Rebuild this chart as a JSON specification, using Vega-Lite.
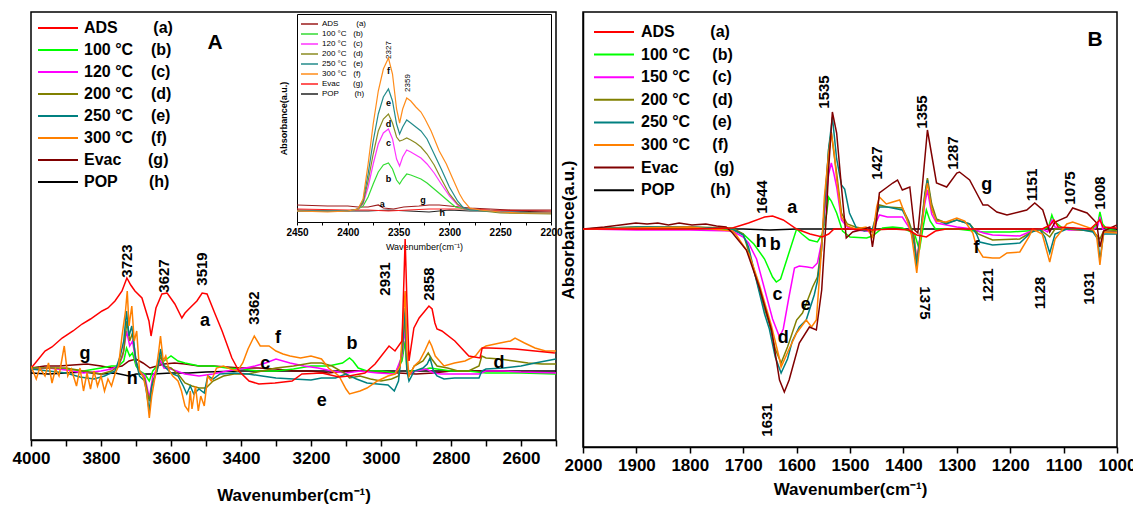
{
"$schema": "https://vega.github.io/schema/vega-lite/v6.json",
"padding": {"left": 11, "top": 11, "right": 0, "bottom": 0},
"spacing": -5,
"config": {
 "font": "Liberation Sans",
 "view": {"stroke": "black", "strokeWidth": 1.5},
 "axis": {"grid": false, "domainColor": "black", "domainWidth": 1.5, "tickColor": "black", "tickWidth": 1.5, "labelColor": "black", "titleColor": "black", "labelFont": "Liberation Sans", "titleFont": "Liberation Sans", "labelFlush": false, "labelOverlap": false, "labelBound": false},
 "legend": {"labelFont": "Liberation Sans", "labelColor": "black", "symbolType": "stroke", "padding": 0, "title": null}
},
"resolve": {"scale": {"color": "independent"}, "legend": {"color": "independent"}},
"datasets": {
"A": [
{"s":"h","w":4000,"v":-2},{"s":"h","w":3950,"v":-3},{"s":"h","w":3900,"v":-2},{"s":"h","w":3850,"v":-1},{"s":"h","w":3800,"v":-3},{"s":"h","w":3760,"v":-2},{"s":"h","w":3720,"v":-5},{"s":"h","w":3700,"v":-3},{"s":"h","w":3650,"v":-3},{"s":"h","w":3600,"v":-2},{"s":"h","w":3550,"v":-2},{"s":"h","w":3500,"v":-1},{"s":"h","w":3400,"v":0},{"s":"h","w":3300,"v":0},{"s":"h","w":3200,"v":0},{"s":"h","w":3100,"v":0},{"s":"h","w":3000,"v":0},{"s":"h","w":2900,"v":0},{"s":"h","w":2800,"v":0},{"s":"h","w":2700,"v":0},{"s":"h","w":2600,"v":0},{"s":"h","w":2500,"v":0},
{"s":"g","w":4000,"v":3},{"s":"g","w":3960,"v":5},{"s":"g","w":3920,"v":5},{"s":"g","w":3880,"v":6},{"s":"g","w":3840,"v":7},{"s":"g","w":3800,"v":5},{"s":"g","w":3770,"v":3},{"s":"g","w":3740,"v":5},{"s":"g","w":3720,"v":10},{"s":"g","w":3700,"v":12},{"s":"g","w":3680,"v":8},{"s":"g","w":3660,"v":3},{"s":"g","w":3640,"v":5},{"s":"g","w":3620,"v":7},{"s":"g","w":3590,"v":8},{"s":"g","w":3560,"v":7},{"s":"g","w":3520,"v":5},{"s":"g","w":3480,"v":5},{"s":"g","w":3440,"v":4},{"s":"g","w":3400,"v":3},{"s":"g","w":3350,"v":3},{"s":"g","w":3300,"v":2},{"s":"g","w":3250,"v":0},{"s":"g","w":3200,"v":0},{"s":"g","w":3150,"v":-2},{"s":"g","w":3100,"v":0},{"s":"g","w":3050,"v":0},{"s":"g","w":3000,"v":-1},{"s":"g","w":2950,"v":-2},{"s":"g","w":2900,"v":-3},{"s":"g","w":2850,"v":-2},{"s":"g","w":2800,"v":0},{"s":"g","w":2750,"v":0},{"s":"g","w":2700,"v":0},{"s":"g","w":2650,"v":0},{"s":"g","w":2600,"v":-1},{"s":"g","w":2500,"v":-2},
{"s":"b","w":4000,"v":3},{"s":"b","w":3950,"v":3},{"s":"b","w":3900,"v":2},{"s":"b","w":3850,"v":0},{"s":"b","w":3800,"v":3},{"s":"b","w":3770,"v":5},{"s":"b","w":3750,"v":5},{"s":"b","w":3735,"v":10},{"s":"b","w":3727,"v":23},{"s":"b","w":3718,"v":15},{"s":"b","w":3710,"v":18},{"s":"b","w":3700,"v":5},{"s":"b","w":3690,"v":0},{"s":"b","w":3675,"v":-3},{"s":"b","w":3662,"v":-10},{"s":"b","w":3652,"v":0},{"s":"b","w":3640,"v":5},{"s":"b","w":3620,"v":10},{"s":"b","w":3600,"v":15},{"s":"b","w":3580,"v":10},{"s":"b","w":3560,"v":8},{"s":"b","w":3520,"v":5},{"s":"b","w":3480,"v":5},{"s":"b","w":3440,"v":3},{"s":"b","w":3400,"v":2},{"s":"b","w":3350,"v":0},{"s":"b","w":3300,"v":0},{"s":"b","w":3250,"v":2},{"s":"b","w":3200,"v":5},{"s":"b","w":3150,"v":5},{"s":"b","w":3110,"v":8},{"s":"b","w":3090,"v":13},{"s":"b","w":3080,"v":10},{"s":"b","w":3065,"v":3},{"s":"b","w":3040,"v":0},{"s":"b","w":3000,"v":0},{"s":"b","w":2960,"v":-2},{"s":"b","w":2940,"v":10},{"s":"b","w":2931,"v":30},{"s":"b","w":2926,"v":0},{"s":"b","w":2900,"v":0},{"s":"b","w":2860,"v":3},{"s":"b","w":2800,"v":0},{"s":"b","w":2750,"v":0},{"s":"b","w":2700,"v":-2},{"s":"b","w":2600,"v":-2},{"s":"b","w":2500,"v":-3},
{"s":"c","w":4000,"v":2},{"s":"c","w":3950,"v":3},{"s":"c","w":3900,"v":1},{"s":"c","w":3850,"v":-2},{"s":"c","w":3800,"v":0},{"s":"c","w":3770,"v":2},{"s":"c","w":3750,"v":5},{"s":"c","w":3738,"v":15},{"s":"c","w":3727,"v":40},{"s":"c","w":3718,"v":25},{"s":"c","w":3710,"v":30},{"s":"c","w":3700,"v":8},{"s":"c","w":3690,"v":0},{"s":"c","w":3675,"v":-5},{"s":"c","w":3662,"v":-27},{"s":"c","w":3652,"v":-5},{"s":"c","w":3640,"v":2},{"s":"c","w":3630,"v":10},{"s":"c","w":3620,"v":3},{"s":"c","w":3600,"v":2},{"s":"c","w":3560,"v":-3},{"s":"c","w":3520,"v":-5},{"s":"c","w":3480,"v":-3},{"s":"c","w":3440,"v":0},{"s":"c","w":3400,"v":2},{"s":"c","w":3360,"v":5},{"s":"c","w":3330,"v":8},{"s":"c","w":3300,"v":12},{"s":"c","w":3260,"v":8},{"s":"c","w":3220,"v":5},{"s":"c","w":3180,"v":3},{"s":"c","w":3140,"v":0},{"s":"c","w":3100,"v":-2},{"s":"c","w":3060,"v":0},{"s":"c","w":3010,"v":-2},{"s":"c","w":2960,"v":-3},{"s":"c","w":2940,"v":15},{"s":"c","w":2931,"v":43},{"s":"c","w":2926,"v":5},{"s":"c","w":2920,"v":-3},{"s":"c","w":2900,"v":0},{"s":"c","w":2870,"v":2},{"s":"c","w":2850,"v":-2},{"s":"c","w":2830,"v":-3},{"s":"c","w":2790,"v":-3},{"s":"c","w":2750,"v":-3},{"s":"c","w":2720,"v":-3},{"s":"c","w":2700,"v":0},{"s":"c","w":2650,"v":0},{"s":"c","w":2600,"v":-1},{"s":"c","w":2500,"v":-2},
{"s":"d","w":4000,"v":3},{"s":"d","w":3900,"v":3},{"s":"d","w":3850,"v":0},{"s":"d","w":3800,"v":-3},{"s":"d","w":3770,"v":0},{"s":"d","w":3750,"v":5},{"s":"d","w":3735,"v":20},{"s":"d","w":3726,"v":50},{"s":"d","w":3718,"v":30},{"s":"d","w":3710,"v":38},{"s":"d","w":3700,"v":10},{"s":"d","w":3690,"v":0},{"s":"d","w":3675,"v":-8},{"s":"d","w":3662,"v":-30},{"s":"d","w":3652,"v":-10},{"s":"d","w":3640,"v":0},{"s":"d","w":3630,"v":15},{"s":"d","w":3620,"v":5},{"s":"d","w":3600,"v":3},{"s":"d","w":3580,"v":-3},{"s":"d","w":3560,"v":-12},{"s":"d","w":3540,"v":-15},{"s":"d","w":3520,"v":-17},{"s":"d","w":3500,"v":-17},{"s":"d","w":3480,"v":-10},{"s":"d","w":3450,"v":-5},{"s":"d","w":3420,"v":-3},{"s":"d","w":3380,"v":-3},{"s":"d","w":3340,"v":0},{"s":"d","w":3300,"v":3},{"s":"d","w":3250,"v":5},{"s":"d","w":3200,"v":8},{"s":"d","w":3170,"v":8},{"s":"d","w":3140,"v":5},{"s":"d","w":3100,"v":-3},{"s":"d","w":3090,"v":-7},{"s":"d","w":3060,"v":-5},{"s":"d","w":3030,"v":-8},{"s":"d","w":3000,"v":-10},{"s":"d","w":2970,"v":-8},{"s":"d","w":2950,"v":-5},{"s":"d","w":2938,"v":25},{"s":"d","w":2931,"v":57},{"s":"d","w":2926,"v":0},{"s":"d","w":2920,"v":-5},{"s":"d","w":2905,"v":5},{"s":"d","w":2880,"v":10},{"s":"d","w":2865,"v":18},{"s":"d","w":2855,"v":12},{"s":"d","w":2840,"v":5},{"s":"d","w":2810,"v":3},{"s":"d","w":2780,"v":0},{"s":"d","w":2750,"v":0},{"s":"d","w":2720,"v":5},{"s":"d","w":2712,"v":15},{"s":"d","w":2700,"v":13},{"s":"d","w":2660,"v":12},{"s":"d","w":2620,"v":10},{"s":"d","w":2580,"v":8},{"s":"d","w":2540,"v":7},{"s":"d","w":2500,"v":7},
{"s":"e","w":4000,"v":2},{"s":"e","w":3950,"v":0},{"s":"e","w":3900,"v":-2},{"s":"e","w":3860,"v":-6},{"s":"e","w":3820,"v":-8},{"s":"e","w":3790,"v":-5},{"s":"e","w":3760,"v":0},{"s":"e","w":3745,"v":15},{"s":"e","w":3735,"v":30},{"s":"e","w":3727,"v":60},{"s":"e","w":3720,"v":35},{"s":"e","w":3712,"v":45},{"s":"e","w":3700,"v":10},{"s":"e","w":3690,"v":-5},{"s":"e","w":3675,"v":-10},{"s":"e","w":3662,"v":-40},{"s":"e","w":3655,"v":-15},{"s":"e","w":3640,"v":0},{"s":"e","w":3630,"v":22},{"s":"e","w":3620,"v":5},{"s":"e","w":3600,"v":-2},{"s":"e","w":3580,"v":-5},{"s":"e","w":3565,"v":-15},{"s":"e","w":3555,"v":-23},{"s":"e","w":3545,"v":-15},{"s":"e","w":3535,"v":-23},{"s":"e","w":3520,"v":-18},{"s":"e","w":3505,"v":-22},{"s":"e","w":3495,"v":-5},{"s":"e","w":3480,"v":-8},{"s":"e","w":3460,"v":-3},{"s":"e","w":3420,"v":-2},{"s":"e","w":3380,"v":-3},{"s":"e","w":3340,"v":-5},{"s":"e","w":3300,"v":-7},{"s":"e","w":3250,"v":-8},{"s":"e","w":3200,"v":-9},{"s":"e","w":3170,"v":-7},{"s":"e","w":3130,"v":-7},{"s":"e","w":3100,"v":-3},{"s":"e","w":3070,"v":-8},{"s":"e","w":3040,"v":-12},{"s":"e","w":3010,"v":-13},{"s":"e","w":2980,"v":-14},{"s":"e","w":2962,"v":-20},{"s":"e","w":2950,"v":-10},{"s":"e","w":2938,"v":30},{"s":"e","w":2931,"v":63},{"s":"e","w":2926,"v":0},{"s":"e","w":2920,"v":-10},{"s":"e","w":2905,"v":0},{"s":"e","w":2880,"v":3},{"s":"e","w":2868,"v":7},{"s":"e","w":2860,"v":13},{"s":"e","w":2850,"v":0},{"s":"e","w":2840,"v":-5},{"s":"e","w":2820,"v":-8},{"s":"e","w":2790,"v":-7},{"s":"e","w":2760,"v":-7},{"s":"e","w":2720,"v":-7},{"s":"e","w":2712,"v":0},{"s":"e","w":2700,"v":2},{"s":"e","w":2650,"v":3},{"s":"e","w":2600,"v":5},{"s":"e","w":2560,"v":8},{"s":"e","w":2500,"v":12},
{"s":"f","w":4000,"v":5},{"s":"f","w":3985,"v":-8},{"s":"f","w":3975,"v":3},{"s":"f","w":3960,"v":-5},{"s":"f","w":3950,"v":8},{"s":"f","w":3940,"v":-12},{"s":"f","w":3930,"v":2},{"s":"f","w":3920,"v":-5},{"s":"f","w":3905,"v":25},{"s":"f","w":3895,"v":-5},{"s":"f","w":3885,"v":2},{"s":"f","w":3870,"v":-15},{"s":"f","w":3860,"v":3},{"s":"f","w":3850,"v":-20},{"s":"f","w":3840,"v":-2},{"s":"f","w":3830,"v":-18},{"s":"f","w":3820,"v":0},{"s":"f","w":3810,"v":-15},{"s":"f","w":3800,"v":-5},{"s":"f","w":3790,"v":-20},{"s":"f","w":3780,"v":-8},{"s":"f","w":3770,"v":-15},{"s":"f","w":3760,"v":-3},{"s":"f","w":3750,"v":5},{"s":"f","w":3740,"v":35},{"s":"f","w":3730,"v":60},{"s":"f","w":3725,"v":80},{"s":"f","w":3720,"v":45},{"s":"f","w":3712,"v":65},{"s":"f","w":3705,"v":30},{"s":"f","w":3698,"v":40},{"s":"f","w":3690,"v":0},{"s":"f","w":3680,"v":-5},{"s":"f","w":3670,"v":-20},{"s":"f","w":3662,"v":-47},{"s":"f","w":3655,"v":-25},{"s":"f","w":3645,"v":-5},{"s":"f","w":3635,"v":20},{"s":"f","w":3630,"v":35},{"s":"f","w":3622,"v":10},{"s":"f","w":3615,"v":15},{"s":"f","w":3605,"v":0},{"s":"f","w":3595,"v":-5},{"s":"f","w":3580,"v":-10},{"s":"f","w":3570,"v":-20},{"s":"f","w":3560,"v":-35},{"s":"f","w":3550,"v":-40},{"s":"f","w":3545,"v":-20},{"s":"f","w":3540,"v":-38},{"s":"f","w":3530,"v":-15},{"s":"f","w":3522,"v":-40},{"s":"f","w":3515,"v":-25},{"s":"f","w":3505,"v":-35},{"s":"f","w":3495,"v":-5},{"s":"f","w":3485,"v":-10},{"s":"f","w":3470,"v":3},{"s":"f","w":3450,"v":5},{"s":"f","w":3430,"v":2},{"s":"f","w":3410,"v":0},{"s":"f","w":3395,"v":8},{"s":"f","w":3380,"v":22},{"s":"f","w":3362,"v":35},{"s":"f","w":3345,"v":25},{"s":"f","w":3320,"v":25},{"s":"f","w":3300,"v":20},{"s":"f","w":3280,"v":17},{"s":"f","w":3260,"v":15},{"s":"f","w":3230,"v":13},{"s":"f","w":3200,"v":15},{"s":"f","w":3170,"v":12},{"s":"f","w":3150,"v":3},{"s":"f","w":3120,"v":-5},{"s":"f","w":3100,"v":-18},{"s":"f","w":3090,"v":-23},{"s":"f","w":3060,"v":-20},{"s":"f","w":3040,"v":-17},{"s":"f","w":3010,"v":-10},{"s":"f","w":2980,"v":-5},{"s":"f","w":2960,"v":-3},{"s":"f","w":2945,"v":5},{"s":"f","w":2935,"v":60},{"s":"f","w":2931,"v":80},{"s":"f","w":2926,"v":20},{"s":"f","w":2920,"v":-5},{"s":"f","w":2905,"v":5},{"s":"f","w":2890,"v":10},{"s":"f","w":2875,"v":20},{"s":"f","w":2862,"v":30},{"s":"f","w":2855,"v":25},{"s":"f","w":2845,"v":15},{"s":"f","w":2820,"v":5},{"s":"f","w":2790,"v":8},{"s":"f","w":2760,"v":10},{"s":"f","w":2730,"v":15},{"s":"f","w":2715,"v":22},{"s":"f","w":2700,"v":25},{"s":"f","w":2660,"v":28},{"s":"f","w":2630,"v":30},{"s":"f","w":2617,"v":33},{"s":"f","w":2590,"v":28},{"s":"f","w":2560,"v":23},{"s":"f","w":2530,"v":20},{"s":"f","w":2500,"v":20},
{"s":"a","w":3997,"v":4},{"s":"a","w":3960,"v":20},{"s":"a","w":3940,"v":24},{"s":"a","w":3911,"v":33},{"s":"a","w":3880,"v":40},{"s":"a","w":3854,"v":47},{"s":"a","w":3830,"v":52},{"s":"a","w":3797,"v":60},{"s":"a","w":3780,"v":63},{"s":"a","w":3760,"v":70},{"s":"a","w":3740,"v":80},{"s":"a","w":3726,"v":93},{"s":"a","w":3715,"v":86},{"s":"a","w":3703,"v":80},{"s":"a","w":3683,"v":73},{"s":"a","w":3663,"v":50},{"s":"a","w":3657,"v":35},{"s":"a","w":3643,"v":63},{"s":"a","w":3626,"v":77},{"s":"a","w":3611,"v":78},{"s":"a","w":3589,"v":67},{"s":"a","w":3569,"v":53},{"s":"a","w":3560,"v":58},{"s":"a","w":3549,"v":62},{"s":"a","w":3526,"v":70},{"s":"a","w":3511,"v":78},{"s":"a","w":3497,"v":77},{"s":"a","w":3474,"v":57},{"s":"a","w":3454,"v":40},{"s":"a","w":3426,"v":13},{"s":"a","w":3406,"v":0},{"s":"a","w":3377,"v":-10},{"s":"a","w":3349,"v":-13},{"s":"a","w":3303,"v":-12},{"s":"a","w":3254,"v":-10},{"s":"a","w":3226,"v":-3},{"s":"a","w":3169,"v":-2},{"s":"a","w":3120,"v":-6},{"s":"a","w":3091,"v":-5},{"s":"a","w":3046,"v":-2},{"s":"a","w":3017,"v":7},{"s":"a","w":2977,"v":25},{"s":"a","w":2960,"v":20},{"s":"a","w":2940,"v":30},{"s":"a","w":2934,"v":97},{"s":"a","w":2931,"v":132},{"s":"a","w":2926,"v":70},{"s":"a","w":2920,"v":10},{"s":"a","w":2906,"v":43},{"s":"a","w":2891,"v":53},{"s":"a","w":2863,"v":65},{"s":"a","w":2854,"v":62},{"s":"a","w":2846,"v":48},{"s":"a","w":2840,"v":42},{"s":"a","w":2826,"v":40},{"s":"a","w":2789,"v":30},{"s":"a","w":2749,"v":15},{"s":"a","w":2717,"v":13},{"s":"a","w":2711,"v":23},{"s":"a","w":2691,"v":23},{"s":"a","w":2617,"v":22},{"s":"a","w":2560,"v":20},{"s":"a","w":2503,"v":18}
],
"Anum": [{"w":3726,"v":110,"t":"3723"},{"w":3620,"v":95,"t":"3627"},{"w":3511,"v":102,"t":"3519"},{"w":3363,"v":63,"t":"3362"},{"w":2989,"v":92,"t":"2931"},{"w":2863,"v":87,"t":"2858"}],
"Alet": [{"w":3503,"v":50,"t":"a"},{"w":3294,"v":33,"t":"f"},{"w":3331,"v":7,"t":"c"},{"w":3846,"v":17,"t":"g"},{"w":3711,"v":-8,"t":"h"},{"w":3083,"v":27,"t":"b"},{"w":3169,"v":-30,"t":"e"},{"w":2663,"v":8,"t":"d"}],
"Apanel": [{"w":3474,"v":328,"t":"A"}],
"inset": [
{"s":"h","w":2450,"v":-1},{"s":"h","w":2400,"v":-2},{"s":"h","w":2380,"v":-2},{"s":"h","w":2360,"v":-1},{"s":"h","w":2340,"v":-2},{"s":"h","w":2320,"v":-3},{"s":"h","w":2300,"v":-1},{"s":"h","w":2280,"v":-2},{"s":"h","w":2250,"v":-2},{"s":"h","w":2200,"v":-3},
{"s":"g","w":2450,"v":0},{"s":"g","w":2400,"v":-1},{"s":"g","w":2380,"v":-1},{"s":"g","w":2360,"v":-2},{"s":"g","w":2340,"v":-1},{"s":"g","w":2320,"v":0},{"s":"g","w":2300,"v":0},{"s":"g","w":2280,"v":0},{"s":"g","w":2260,"v":-1},{"s":"g","w":2200,"v":-2},
{"s":"a","w":2450,"v":4},{"s":"a","w":2420,"v":3},{"s":"a","w":2400,"v":3},{"s":"a","w":2390,"v":2},{"s":"a","w":2380,"v":2},{"s":"a","w":2370,"v":4},{"s":"a","w":2365,"v":1},{"s":"a","w":2355,"v":0},{"s":"a","w":2345,"v":2},{"s":"a","w":2330,"v":3},{"s":"a","w":2320,"v":4},{"s":"a","w":2310,"v":4},{"s":"a","w":2300,"v":3},{"s":"a","w":2290,"v":2},{"s":"a","w":2280,"v":1},{"s":"a","w":2260,"v":0},{"s":"a","w":2240,"v":-1},{"s":"a","w":2200,"v":-1},
{"s":"b","w":2450,"v":-2},{"s":"b","w":2400,"v":-2},{"s":"b","w":2390,"v":0},{"s":"b","w":2385,"v":3},{"s":"b","w":2380,"v":12},{"s":"b","w":2375,"v":25},{"s":"b","w":2370,"v":37},{"s":"b","w":2365,"v":44},{"s":"b","w":2360,"v":46},{"s":"b","w":2356,"v":40},{"s":"b","w":2352,"v":29},{"s":"b","w":2349,"v":25},{"s":"b","w":2346,"v":30},{"s":"b","w":2342,"v":35},{"s":"b","w":2338,"v":34},{"s":"b","w":2333,"v":32},{"s":"b","w":2328,"v":30},{"s":"b","w":2322,"v":26},{"s":"b","w":2315,"v":20},{"s":"b","w":2308,"v":14},{"s":"b","w":2300,"v":7},{"s":"b","w":2294,"v":2},{"s":"b","w":2285,"v":0},{"s":"b","w":2250,"v":-3},{"s":"b","w":2200,"v":-4},
{"s":"c","w":2450,"v":-2},{"s":"c","w":2400,"v":-2},{"s":"c","w":2390,"v":0},{"s":"c","w":2385,"v":5},{"s":"c","w":2380,"v":22},{"s":"c","w":2375,"v":45},{"s":"c","w":2370,"v":65},{"s":"c","w":2365,"v":76},{"s":"c","w":2360,"v":80},{"s":"c","w":2356,"v":70},{"s":"c","w":2352,"v":50},{"s":"c","w":2349,"v":43},{"s":"c","w":2346,"v":52},{"s":"c","w":2342,"v":59},{"s":"c","w":2338,"v":57},{"s":"c","w":2333,"v":54},{"s":"c","w":2328,"v":51},{"s":"c","w":2322,"v":45},{"s":"c","w":2315,"v":36},{"s":"c","w":2308,"v":25},{"s":"c","w":2300,"v":13},{"s":"c","w":2292,"v":4},{"s":"c","w":2285,"v":0},{"s":"c","w":2250,"v":-3},{"s":"c","w":2200,"v":-4},
{"s":"d","w":2450,"v":-2},{"s":"d","w":2400,"v":-2},{"s":"d","w":2390,"v":0},{"s":"d","w":2385,"v":6},{"s":"d","w":2380,"v":28},{"s":"d","w":2375,"v":55},{"s":"d","w":2370,"v":78},{"s":"d","w":2365,"v":90},{"s":"d","w":2360,"v":95},{"s":"d","w":2356,"v":86},{"s":"d","w":2352,"v":72},{"s":"d","w":2349,"v":68},{"s":"d","w":2346,"v":69},{"s":"d","w":2342,"v":71},{"s":"d","w":2338,"v":69},{"s":"d","w":2333,"v":66},{"s":"d","w":2328,"v":62},{"s":"d","w":2322,"v":55},{"s":"d","w":2315,"v":44},{"s":"d","w":2308,"v":30},{"s":"d","w":2300,"v":15},{"s":"d","w":2292,"v":5},{"s":"d","w":2285,"v":0},{"s":"d","w":2250,"v":-4},{"s":"d","w":2200,"v":-5},
{"s":"e","w":2450,"v":-2},{"s":"e","w":2400,"v":-2},{"s":"e","w":2390,"v":0},{"s":"e","w":2385,"v":8},{"s":"e","w":2380,"v":35},{"s":"e","w":2375,"v":68},{"s":"e","w":2370,"v":95},{"s":"e","w":2365,"v":112},{"s":"e","w":2360,"v":120},{"s":"e","w":2356,"v":108},{"s":"e","w":2352,"v":85},{"s":"e","w":2349,"v":75},{"s":"e","w":2346,"v":82},{"s":"e","w":2342,"v":89},{"s":"e","w":2338,"v":86},{"s":"e","w":2333,"v":82},{"s":"e","w":2328,"v":78},{"s":"e","w":2322,"v":70},{"s":"e","w":2315,"v":55},{"s":"e","w":2308,"v":40},{"s":"e","w":2300,"v":22},{"s":"e","w":2292,"v":8},{"s":"e","w":2287,"v":2},{"s":"e","w":2280,"v":-1},{"s":"e","w":2250,"v":-3},{"s":"e","w":2200,"v":-4},
{"s":"f","w":2450,"v":-2},{"s":"f","w":2420,"v":-3},{"s":"f","w":2400,"v":-2},{"s":"f","w":2390,"v":0},{"s":"f","w":2385,"v":10},{"s":"f","w":2380,"v":45},{"s":"f","w":2375,"v":85},{"s":"f","w":2370,"v":118},{"s":"f","w":2365,"v":140},{"s":"f","w":2360,"v":151},{"s":"f","w":2356,"v":135},{"s":"f","w":2352,"v":100},{"s":"f","w":2349,"v":86},{"s":"f","w":2346,"v":100},{"s":"f","w":2342,"v":111},{"s":"f","w":2338,"v":108},{"s":"f","w":2333,"v":102},{"s":"f","w":2328,"v":97},{"s":"f","w":2324,"v":90},{"s":"f","w":2318,"v":78},{"s":"f","w":2310,"v":58},{"s":"f","w":2303,"v":45},{"s":"f","w":2297,"v":31},{"s":"f","w":2290,"v":15},{"s":"f","w":2286,"v":8},{"s":"f","w":2280,"v":1},{"s":"f","w":2270,"v":-1},{"s":"f","w":2250,"v":-3},{"s":"f","w":2230,"v":-4},{"s":"f","w":2200,"v":-4}
],
"Inum": [{"w":2359,"v":159,"t":"2327"},{"w":2341,"v":126,"t":"2359"}],
"Ilet": [{"w":2360,"v":138,"t":"f"},{"w":2360,"v":106,"t":"e"},{"w":2360,"v":85,"t":"d"},{"w":2360,"v":66,"t":"c"},{"w":2360,"v":30,"t":"b"},{"w":2366,"v":5,"t":"a"},{"w":2326,"v":9,"t":"g"},{"w":2307,"v":-4,"t":"h"}],
"B": [
{"s":"h","w":2000,"v":0},{"s":"h","w":1900,"v":0},{"s":"h","w":1800,"v":0},{"s":"h","w":1700,"v":0},{"s":"h","w":1650,"v":-1},{"s":"h","w":1600,"v":0},{"s":"h","w":1550,"v":0},{"s":"h","w":1500,"v":0},{"s":"h","w":1450,"v":0},{"s":"h","w":1400,"v":0},{"s":"h","w":1350,"v":0},{"s":"h","w":1300,"v":0},{"s":"h","w":1250,"v":0},{"s":"h","w":1200,"v":0},{"s":"h","w":1150,"v":0},{"s":"h","w":1100,"v":0},{"s":"h","w":1050,"v":0},{"s":"h","w":1000,"v":0},
{"s":"b","w":2000,"v":0},{"s":"b","w":1800,"v":0},{"s":"b","w":1720,"v":-1},{"s":"b","w":1700,"v":-5},{"s":"b","w":1680,"v":-15},{"s":"b","w":1660,"v":-30},{"s":"b","w":1645,"v":-48},{"s":"b","w":1638,"v":-53},{"s":"b","w":1630,"v":-50},{"s":"b","w":1615,"v":-25},{"s":"b","w":1600,"v":0},{"s":"b","w":1590,"v":-5},{"s":"b","w":1576,"v":-11},{"s":"b","w":1561,"v":-13},{"s":"b","w":1552,"v":-5},{"s":"b","w":1544,"v":15},{"s":"b","w":1540,"v":32},{"s":"b","w":1535,"v":28},{"s":"b","w":1525,"v":16},{"s":"b","w":1514,"v":-2},{"s":"b","w":1500,"v":-8},{"s":"b","w":1469,"v":-9},{"s":"b","w":1458,"v":-7},{"s":"b","w":1439,"v":1},{"s":"b","w":1420,"v":2},{"s":"b","w":1402,"v":1},{"s":"b","w":1385,"v":-3},{"s":"b","w":1379,"v":-5},{"s":"b","w":1370,"v":-21},{"s":"b","w":1362,"v":5},{"s":"b","w":1357,"v":19},{"s":"b","w":1350,"v":8},{"s":"b","w":1340,"v":0},{"s":"b","w":1300,"v":0},{"s":"b","w":1250,"v":-3},{"s":"b","w":1200,"v":-3},{"s":"b","w":1170,"v":-2},{"s":"b","w":1140,"v":-1},{"s":"b","w":1128,"v":2},{"s":"b","w":1122,"v":14},{"s":"b","w":1118,"v":8},{"s":"b","w":1100,"v":0},{"s":"b","w":1050,"v":-1},{"s":"b","w":1036,"v":5},{"s":"b","w":1032,"v":17},{"s":"b","w":1027,"v":5},{"s":"b","w":1019,"v":0},{"s":"b","w":1000,"v":-2},
{"s":"c","w":2000,"v":0},{"s":"c","w":1900,"v":-1},{"s":"c","w":1800,"v":-1},{"s":"c","w":1720,"v":-2},{"s":"c","w":1700,"v":-8},{"s":"c","w":1690,"v":-14},{"s":"c","w":1675,"v":-30},{"s":"c","w":1660,"v":-60},{"s":"c","w":1645,"v":-90},{"s":"c","w":1632,"v":-108},{"s":"c","w":1625,"v":-100},{"s":"c","w":1615,"v":-70},{"s":"c","w":1604,"v":-39},{"s":"c","w":1595,"v":-37},{"s":"c","w":1580,"v":-38},{"s":"c","w":1570,"v":-39},{"s":"c","w":1561,"v":-34},{"s":"c","w":1552,"v":-10},{"s":"c","w":1545,"v":30},{"s":"c","w":1540,"v":55},{"s":"c","w":1535,"v":66},{"s":"c","w":1530,"v":55},{"s":"c","w":1525,"v":42},{"s":"c","w":1516,"v":9},{"s":"c","w":1505,"v":2},{"s":"c","w":1490,"v":-1},{"s":"c","w":1470,"v":-2},{"s":"c","w":1458,"v":-3},{"s":"c","w":1450,"v":8},{"s":"c","w":1445,"v":14},{"s":"c","w":1430,"v":12},{"s":"c","w":1402,"v":12},{"s":"c","w":1390,"v":2},{"s":"c","w":1380,"v":-10},{"s":"c","w":1375,"v":-31},{"s":"c","w":1368,"v":-5},{"s":"c","w":1360,"v":25},{"s":"c","w":1355,"v":39},{"s":"c","w":1347,"v":15},{"s":"c","w":1338,"v":6},{"s":"c","w":1300,"v":2},{"s":"c","w":1270,"v":0},{"s":"c","w":1250,"v":-4},{"s":"c","w":1233,"v":-6},{"s":"c","w":1182,"v":-7},{"s":"c","w":1160,"v":-2},{"s":"c","w":1140,"v":0},{"s":"c","w":1130,"v":-3},{"s":"c","w":1122,"v":9},{"s":"c","w":1116,"v":2},{"s":"c","w":1090,"v":-1},{"s":"c","w":1045,"v":-1},{"s":"c","w":1036,"v":3},{"s":"c","w":1032,"v":12},{"s":"c","w":1027,"v":0},{"s":"c","w":1019,"v":-2},{"s":"c","w":1000,"v":-3},
{"s":"d","w":2000,"v":0},{"s":"d","w":1900,"v":2},{"s":"d","w":1800,"v":2},{"s":"d","w":1720,"v":1},{"s":"d","w":1700,"v":-5},{"s":"d","w":1694,"v":-15},{"s":"d","w":1675,"v":-51},{"s":"d","w":1660,"v":-80},{"s":"d","w":1651,"v":-95},{"s":"d","w":1640,"v":-120},{"s":"d","w":1629,"v":-134},{"s":"d","w":1617,"v":-118},{"s":"d","w":1600,"v":-91},{"s":"d","w":1589,"v":-84},{"s":"d","w":1580,"v":-72},{"s":"d","w":1570,"v":-58},{"s":"d","w":1561,"v":-48},{"s":"d","w":1553,"v":-15},{"s":"d","w":1545,"v":40},{"s":"d","w":1540,"v":80},{"s":"d","w":1535,"v":97},{"s":"d","w":1530,"v":75},{"s":"d","w":1525,"v":56},{"s":"d","w":1516,"v":16},{"s":"d","w":1505,"v":5},{"s":"d","w":1490,"v":2},{"s":"d","w":1470,"v":0},{"s":"d","w":1458,"v":-3},{"s":"d","w":1450,"v":15},{"s":"d","w":1445,"v":24},{"s":"d","w":1430,"v":22},{"s":"d","w":1402,"v":21},{"s":"d","w":1390,"v":8},{"s":"d","w":1380,"v":-8},{"s":"d","w":1375,"v":-34},{"s":"d","w":1368,"v":-5},{"s":"d","w":1360,"v":35},{"s":"d","w":1355,"v":51},{"s":"d","w":1347,"v":25},{"s":"d","w":1338,"v":10},{"s":"d","w":1320,"v":6},{"s":"d","w":1300,"v":9},{"s":"d","w":1276,"v":5},{"s":"d","w":1260,"v":-5},{"s":"d","w":1233,"v":-11},{"s":"d","w":1182,"v":-10},{"s":"d","w":1160,"v":-3},{"s":"d","w":1145,"v":0},{"s":"d","w":1126,"v":-8},{"s":"d","w":1116,"v":0},{"s":"d","w":1094,"v":0},{"s":"d","w":1045,"v":-2},{"s":"d","w":1032,"v":-10},{"s":"d","w":1025,"v":-2},{"s":"d","w":1000,"v":-2},
{"s":"e","w":2000,"v":0},{"s":"e","w":1900,"v":2},{"s":"e","w":1800,"v":2},{"s":"e","w":1720,"v":0},{"s":"e","w":1700,"v":-6},{"s":"e","w":1690,"v":-18},{"s":"e","w":1675,"v":-52},{"s":"e","w":1660,"v":-85},{"s":"e","w":1651,"v":-100},{"s":"e","w":1640,"v":-128},{"s":"e","w":1629,"v":-144},{"s":"e","w":1617,"v":-130},{"s":"e","w":1608,"v":-112},{"s":"e","w":1595,"v":-98},{"s":"e","w":1582,"v":-91},{"s":"e","w":1567,"v":-66},{"s":"e","w":1561,"v":-52},{"s":"e","w":1553,"v":-20},{"s":"e","w":1548,"v":22},{"s":"e","w":1540,"v":80},{"s":"e","w":1533,"v":112},{"s":"e","w":1525,"v":70},{"s":"e","w":1516,"v":44},{"s":"e","w":1510,"v":40},{"s":"e","w":1501,"v":16},{"s":"e","w":1488,"v":1},{"s":"e","w":1473,"v":-2},{"s":"e","w":1458,"v":0},{"s":"e","w":1450,"v":15},{"s":"e","w":1445,"v":22},{"s":"e","w":1430,"v":22},{"s":"e","w":1402,"v":19},{"s":"e","w":1390,"v":6},{"s":"e","w":1380,"v":-15},{"s":"e","w":1375,"v":-38},{"s":"e","w":1368,"v":-5},{"s":"e","w":1360,"v":33},{"s":"e","w":1355,"v":49},{"s":"e","w":1347,"v":20},{"s":"e","w":1338,"v":9},{"s":"e","w":1320,"v":5},{"s":"e","w":1300,"v":9},{"s":"e","w":1276,"v":5},{"s":"e","w":1263,"v":-5},{"s":"e","w":1257,"v":-13},{"s":"e","w":1233,"v":-16},{"s":"e","w":1182,"v":-14},{"s":"e","w":1160,"v":-3},{"s":"e","w":1145,"v":0},{"s":"e","w":1135,"v":-8},{"s":"e","w":1126,"v":-24},{"s":"e","w":1116,"v":-5},{"s":"e","w":1094,"v":0},{"s":"e","w":1083,"v":1},{"s":"e","w":1045,"v":-3},{"s":"e","w":1036,"v":-10},{"s":"e","w":1032,"v":-31},{"s":"e","w":1025,"v":-5},{"s":"e","w":1000,"v":-5},
{"s":"f","w":2000,"v":0},{"s":"f","w":1900,"v":1},{"s":"f","w":1800,"v":2},{"s":"f","w":1720,"v":-2},{"s":"f","w":1713,"v":-6},{"s":"f","w":1689,"v":-25},{"s":"f","w":1670,"v":-55},{"s":"f","w":1647,"v":-97},{"s":"f","w":1632,"v":-130},{"s":"f","w":1629,"v":-138},{"s":"f","w":1614,"v":-120},{"s":"f","w":1600,"v":-104},{"s":"f","w":1582,"v":-91},{"s":"f","w":1572,"v":-98},{"s":"f","w":1563,"v":-91},{"s":"f","w":1553,"v":-18},{"s":"f","w":1548,"v":32},{"s":"f","w":1540,"v":75},{"s":"f","w":1535,"v":96},{"s":"f","w":1530,"v":78},{"s":"f","w":1525,"v":50},{"s":"f","w":1516,"v":12},{"s":"f","w":1505,"v":3},{"s":"f","w":1490,"v":0},{"s":"f","w":1470,"v":2},{"s":"f","w":1458,"v":-8},{"s":"f","w":1450,"v":22},{"s":"f","w":1445,"v":32},{"s":"f","w":1432,"v":25},{"s":"f","w":1420,"v":27},{"s":"f","w":1407,"v":29},{"s":"f","w":1395,"v":12},{"s":"f","w":1385,"v":-5},{"s":"f","w":1375,"v":-44},{"s":"f","w":1368,"v":-10},{"s":"f","w":1360,"v":30},{"s":"f","w":1355,"v":46},{"s":"f","w":1347,"v":20},{"s":"f","w":1338,"v":8},{"s":"f","w":1320,"v":7},{"s":"f","w":1300,"v":11},{"s":"f","w":1285,"v":8},{"s":"f","w":1270,"v":-4},{"s":"f","w":1263,"v":-18},{"s":"f","w":1251,"v":-28},{"s":"f","w":1233,"v":-29},{"s":"f","w":1220,"v":-29},{"s":"f","w":1206,"v":-24},{"s":"f","w":1182,"v":-23},{"s":"f","w":1165,"v":-8},{"s":"f","w":1158,"v":0},{"s":"f","w":1140,"v":-5},{"s":"f","w":1126,"v":-33},{"s":"f","w":1116,"v":-10},{"s":"f","w":1094,"v":5},{"s":"f","w":1083,"v":7},{"s":"f","w":1045,"v":0},{"s":"f","w":1038,"v":-8},{"s":"f","w":1032,"v":-36},{"s":"f","w":1025,"v":-3},{"s":"f","w":1000,"v":-4},
{"s":"g","w":2000,"v":0},{"s":"g","w":1960,"v":2},{"s":"g","w":1930,"v":4},{"s":"g","w":1901,"v":6},{"s":"g","w":1880,"v":5},{"s":"g","w":1860,"v":6},{"s":"g","w":1840,"v":4},{"s":"g","w":1820,"v":6},{"s":"g","w":1796,"v":4},{"s":"g","w":1770,"v":5},{"s":"g","w":1750,"v":3},{"s":"g","w":1732,"v":2},{"s":"g","w":1720,"v":-4},{"s":"g","w":1694,"v":-21},{"s":"g","w":1670,"v":-58},{"s":"g","w":1647,"v":-101},{"s":"g","w":1632,"v":-151},{"s":"g","w":1623,"v":-163},{"s":"g","w":1614,"v":-151},{"s":"g","w":1595,"v":-114},{"s":"g","w":1576,"v":-98},{"s":"g","w":1563,"v":-101},{"s":"g","w":1553,"v":-61},{"s":"g","w":1544,"v":16},{"s":"g","w":1540,"v":60},{"s":"g","w":1533,"v":117},{"s":"g","w":1525,"v":96},{"s":"g","w":1516,"v":42},{"s":"g","w":1507,"v":-9},{"s":"g","w":1495,"v":-3},{"s":"g","w":1473,"v":0},{"s":"g","w":1463,"v":2},{"s":"g","w":1458,"v":-18},{"s":"g","w":1450,"v":10},{"s":"g","w":1445,"v":36},{"s":"g","w":1430,"v":42},{"s":"g","w":1420,"v":46},{"s":"g","w":1411,"v":49},{"s":"g","w":1402,"v":39},{"s":"g","w":1388,"v":42},{"s":"g","w":1379,"v":-1},{"s":"g","w":1373,"v":-4},{"s":"g","w":1364,"v":46},{"s":"g","w":1355,"v":99},{"s":"g","w":1338,"v":46},{"s":"g","w":1319,"v":42},{"s":"g","w":1300,"v":56},{"s":"g","w":1295,"v":57},{"s":"g","w":1276,"v":49},{"s":"g","w":1263,"v":36},{"s":"g","w":1251,"v":24},{"s":"g","w":1242,"v":24},{"s":"g","w":1225,"v":17},{"s":"g","w":1206,"v":14},{"s":"g","w":1169,"v":19},{"s":"g","w":1154,"v":26},{"s":"g","w":1139,"v":19},{"s":"g","w":1126,"v":-3},{"s":"g","w":1116,"v":7},{"s":"g","w":1094,"v":12},{"s":"g","w":1083,"v":21},{"s":"g","w":1056,"v":16},{"s":"g","w":1038,"v":6},{"s":"g","w":1032,"v":-18},{"s":"g","w":1025,"v":-2},{"s":"g","w":1000,"v":4},
{"s":"a","w":2000,"v":0},{"s":"a","w":1900,"v":0},{"s":"a","w":1800,"v":0},{"s":"a","w":1720,"v":1},{"s":"a","w":1690,"v":6},{"s":"a","w":1660,"v":12},{"s":"a","w":1645,"v":13},{"s":"a","w":1625,"v":9},{"s":"a","w":1600,"v":0},{"s":"a","w":1575,"v":-5},{"s":"a","w":1552,"v":-8},{"s":"a","w":1540,"v":-5},{"s":"a","w":1530,"v":0},{"s":"a","w":1500,"v":0},{"s":"a","w":1460,"v":-1},{"s":"a","w":1420,"v":0},{"s":"a","w":1390,"v":-1},{"s":"a","w":1375,"v":-6},{"s":"a","w":1357,"v":-8},{"s":"a","w":1340,"v":-2},{"s":"a","w":1320,"v":0},{"s":"a","w":1250,"v":0},{"s":"a","w":1180,"v":0},{"s":"a","w":1140,"v":0},{"s":"a","w":1125,"v":4},{"s":"a","w":1118,"v":9},{"s":"a","w":1110,"v":2},{"s":"a","w":1050,"v":0},{"s":"a","w":1036,"v":7},{"s":"a","w":1032,"v":9},{"s":"a","w":1026,"v":2},{"s":"a","w":1000,"v":1}
],
"Bnum": [{"w":1664,"v":32,"t":"1644"},{"w":1655,"v":-191,"t":"1631"},{"w":1548,"v":137,"t":"1535"},{"w":1450,"v":66,"t":"1427"},{"w":1366,"v":117,"t":"1355"},{"w":1308,"v":76,"t":"1287"},{"w":1159,"v":44,"t":"1151"},{"w":1088,"v":41,"t":"1075"},{"w":1032,"v":36,"t":"1008"},{"w":1242,"v":-56,"t":"1221"},{"w":1144,"v":-64,"t":"1128"},{"w":1053,"v":-59,"t":"1031"}],
"Bnum90": [{"w":1360,"v":-74,"t":"1375"}],
"Blet": [{"w":1608,"v":21,"t":"a"},{"w":1666,"v":-13,"t":"h"},{"w":1640,"v":-16,"t":"b"},{"w":1636,"v":-66,"t":"c"},{"w":1583,"v":-76,"t":"e"},{"w":1625,"v":-109,"t":"d"},{"w":1244,"v":44,"t":"g"},{"w":1263,"v":-19,"t":"f"}],
"Bpanel": [{"w":1041,"v":189,"t":"B"}]
},
"hconcat": [
{
 "width": 525, "height": 428,
 "layer": [
  {"layer": [
   {"data": {"name": "A"},
    "mark": {"type": "line", "strokeWidth": 1.5, "clip": true},
    "encoding": {
     "x": {"field": "w", "type": "quantitative",
       "scale": {"domain": [2500, 4000], "reverse": true, "nice": false, "zero": false},
       "axis": {"orient": "bottom", "values": [4000,3800,3600,3400,3200,3000,2800,2600], "format": "d", "labelOverlap": false, "labelFlush": false,
         "tickSize": 6, "labelFontSize": 17, "labelFontWeight": "bold", "labelPadding": 4,
         "title": "Wavenumber(cm⁻¹)", "titleFontSize": 17, "titleFontWeight": "bold", "titlePadding": 21}},
     "y": {"field": "v", "type": "quantitative",
       "scale": {"domain": [-69, 359], "nice": false, "zero": false},
       "axis": {"orient": "left", "ticks": false, "labels": false, "title": "Absorbance (a.u.)", "titleFontSize": 17, "titleFontWeight": "bold", "titlePadding": 8}},
     "color": {"field": "s", "type": "nominal",
       "scale": {"domain": ["a","b","c","d","e","f","g","h"], "range": ["#FF0000","#00FF00","#FF00FF","#808000","#008080","#FF8000","#800000","#000000"]},
       "legend": {"orient": "top-left", "offset": 6, "symbolSize": 1600, "symbolStrokeWidth": 2, "clipHeight": 20, "rowPadding": 2, "labelOffset": 5, "labelFontSize": 16, "labelFontWeight": "bold",
         "labelExpr": "({'a':'ADS\u00a0\u00a0\u00a0\u00a0\u00a0\u00a0\u00a0\u00a0(a)','b':'100 °C\u00a0\u00a0\u00a0\u00a0(b)','c':'120 °C\u00a0\u00a0\u00a0\u00a0(c)','d':'200 °C\u00a0\u00a0\u00a0\u00a0(d)','e':'250 °C\u00a0\u00a0\u00a0\u00a0(e)','f':'300 °C\u00a0\u00a0\u00a0\u00a0(f)','g':'Evac\u00a0\u00a0\u00a0\u00a0\u00a0\u00a0(g)','h':'POP\u00a0\u00a0\u00a0\u00a0\u00a0\u00a0\u00a0(h)'})[datum.value]"}}
    }},
   {"data": {"name": "A"},
    "mark": {"type": "line", "opacity": 0},
    "encoding": {
     "x": {"field": "w", "type": "quantitative",
       "axis": {"orient": "bottom", "values": [3900,3700,3500,3300,3100,2900,2700,2500], "labels": false, "tickSize": 6, "title": null, "domain": false}},
     "y": {"field": "v", "type": "quantitative", "axis": null}
    }},
   {"data": {"name": "Alet"},
    "mark": {"type": "text", "fontSize": 18, "fontWeight": "bold", "color": "black", "align": "center", "baseline": "middle"},
    "encoding": {"x": {"field": "w", "type": "quantitative", "axis": null}, "y": {"field": "v", "type": "quantitative", "axis": null}, "text": {"field": "t"}}},
   {"data": {"name": "Anum"},
    "mark": {"type": "text", "fontSize": 15, "fontWeight": "bold", "color": "black", "angle": 270, "align": "center", "baseline": "middle"},
    "encoding": {"x": {"field": "w", "type": "quantitative", "axis": null}, "y": {"field": "v", "type": "quantitative", "axis": null}, "text": {"field": "t"}}},
   {"data": {"name": "Apanel"},
    "mark": {"type": "text", "fontSize": 21, "fontWeight": "bold", "color": "black", "align": "center", "baseline": "middle"},
    "encoding": {"x": {"field": "w", "type": "quantitative", "axis": null}, "y": {"field": "v", "type": "quantitative", "axis": null}, "text": {"field": "t"}}}
  ],
  "resolve": {"axis": {"x": "independent"}}},
  {"layer": [
   {"data": {"name": "inset"},
    "mark": {"type": "line", "strokeWidth": 1.2, "clip": true},
    "encoding": {
     "x": {"field": "w", "type": "quantitative",
       "scale": {"domain": [2200, 2450], "reverse": true, "nice": false, "zero": false, "range": [266, 520]},
       "axis": {"orient": "bottom", "offset": -218, "values": [2200,2225,2250,2275,2300,2325,2350,2375,2400,2425,2450],
         "labelExpr": "datum.value % 50 === 0 ? format(datum.value, 'd') : ''", "labelOverlap": false, "labelFlush": false,
         "domainWidth": 1, "tickWidth": 1, "tickSize": 3, "labelFontSize": 10, "labelFontWeight": "bold", "labelPadding": 2,
         "title": "Wavenumber(cm⁻¹)", "titleFontSize": 9, "titleFontWeight": "normal", "titlePadding": 5}},
     "y": {"field": "v", "type": "quantitative",
       "scale": {"domain": [-13, 195], "nice": false, "zero": false, "range": [210, 2]},
       "axis": {"orient": "left", "offset": -266, "domainWidth": 1, "ticks": false, "labels": false, "title": "Absorbance(a.u.)", "titleFontSize": 9, "titleFontWeight": "bold", "titlePadding": 9}},
     "color": {"field": "s", "type": "nominal",
       "scale": {"domain": ["a","b","c","d","e","f","g","h"], "range": ["#9B1B1B","#33DD33","#FF33FF","#8B8B22","#238B8B","#FF8C1A","#FF2020","#222222"]},
       "legend": {"orient": "none", "legendX": 269, "legendY": 7, "symbolSize": 289, "symbolStrokeWidth": 1.5, "clipHeight": 10, "rowPadding": 0, "labelOffset": 3, "labelFontSize": 8,
         "labelExpr": "({'a':'ADS\u00a0\u00a0\u00a0\u00a0\u00a0\u00a0\u00a0\u00a0(a)','b':'100 °C\u00a0\u00a0\u00a0(b)','c':'120 °C\u00a0\u00a0\u00a0(c)','d':'200 °C\u00a0\u00a0\u00a0(d)','e':'250 °C\u00a0\u00a0\u00a0(e)','f':'300 °C\u00a0\u00a0\u00a0(f)','g':'Evac\u00a0\u00a0\u00a0\u00a0\u00a0\u00a0(g)','h':'POP\u00a0\u00a0\u00a0\u00a0\u00a0\u00a0\u00a0(h)'})[datum.value]"}}
    }},
   {"data": {"name": "inset"},
    "mark": {"type": "line", "opacity": 0},
    "encoding": {
     "x": {"field": "w", "type": "quantitative", "axis": {"orient": "top", "offset": -2, "domainWidth": 1, "ticks": false, "labels": false, "title": null}},
     "y": {"field": "v", "type": "quantitative", "axis": {"orient": "right", "offset": -5, "domainWidth": 1, "ticks": false, "labels": false, "title": null}}
    }},
   {"data": {"name": "Ilet"},
    "mark": {"type": "text", "fontSize": 9, "fontWeight": "bold", "color": "black", "align": "center", "baseline": "middle"},
    "encoding": {"x": {"field": "w", "type": "quantitative", "axis": null}, "y": {"field": "v", "type": "quantitative", "axis": null}, "text": {"field": "t"}}},
   {"data": {"name": "Inum"},
    "mark": {"type": "text", "fontSize": 8, "color": "black", "angle": 270, "align": "center", "baseline": "middle"},
    "encoding": {"x": {"field": "w", "type": "quantitative", "axis": null}, "y": {"field": "v", "type": "quantitative", "axis": null}, "text": {"field": "t"}}}
  ],
  "resolve": {"axis": {"x": "independent", "y": "independent"}}}
 ],
 "resolve": {"scale": {"x": "independent", "y": "independent", "color": "independent"}}
},
{
 "width": 534, "height": 435,
 "layer": [
  {"data": {"name": "B"},
   "mark": {"type": "line", "strokeWidth": 1.5, "clip": true},
   "encoding": {
    "x": {"field": "w", "type": "quantitative",
      "scale": {"domain": [1000, 2000], "reverse": true, "nice": false, "zero": false},
      "axis": {"orient": "bottom", "values": [1000,1050,1100,1150,1200,1250,1300,1350,1400,1450,1500,1550,1600,1650,1700,1750,1800,1850,1900,1950,2000],
        "labelExpr": "datum.value % 100 === 0 ? format(datum.value, 'd') : ''", "labelOverlap": false, "labelFlush": false,
        "tickSize": 6, "labelFontSize": 17, "labelFontWeight": "bold", "labelPadding": 4,
        "title": "Wavenumber(cm⁻¹)", "titleFontSize": 17, "titleFontWeight": "bold", "titlePadding": 8}},
    "y": {"field": "v", "type": "quantitative",
      "scale": {"domain": [-218, 217], "nice": false, "zero": false},
      "axis": {"orient": "left", "ticks": false, "labels": false, "title": "Absorbance(a.u.)", "titleFontSize": 17, "titleFontWeight": "bold", "titlePadding": 6}},
    "color": {"field": "s", "type": "nominal",
      "scale": {"domain": ["a","b","c","d","e","f","g","h"], "range": ["#FF0000","#00FF00","#FF00FF","#808000","#008080","#FF8000","#800000","#000000"]},
      "legend": {"orient": "top-left", "offset": 10, "symbolSize": 1600, "symbolStrokeWidth": 2, "clipHeight": 20, "rowPadding": 2.6, "labelOffset": 6, "labelFontSize": 16, "labelFontWeight": "bold",
        "labelExpr": "({'a':'ADS\u00a0\u00a0\u00a0\u00a0\u00a0\u00a0\u00a0\u00a0(a)','b':'100 °C\u00a0\u00a0\u00a0\u00a0\u00a0(b)','c':'150 °C\u00a0\u00a0\u00a0\u00a0\u00a0(c)','d':'200 °C\u00a0\u00a0\u00a0\u00a0\u00a0(d)','e':'250 °C\u00a0\u00a0\u00a0\u00a0\u00a0(e)','f':'300 °C\u00a0\u00a0\u00a0\u00a0\u00a0(f)','g':'Evac\u00a0\u00a0\u00a0\u00a0\u00a0\u00a0\u00a0\u00a0(g)','h':'POP\u00a0\u00a0\u00a0\u00a0\u00a0\u00a0\u00a0\u00a0(h)'})[datum.value]"}}
   }},
  {"data": {"name": "Blet"},
   "mark": {"type": "text", "fontSize": 18, "fontWeight": "bold", "color": "black", "align": "center", "baseline": "middle"},
   "encoding": {"x": {"field": "w", "type": "quantitative"}, "y": {"field": "v", "type": "quantitative"}, "text": {"field": "t"}}},
  {"data": {"name": "Bnum"},
   "mark": {"type": "text", "fontSize": 15, "fontWeight": "bold", "color": "black", "angle": 270, "align": "center", "baseline": "middle"},
   "encoding": {"x": {"field": "w", "type": "quantitative"}, "y": {"field": "v", "type": "quantitative"}, "text": {"field": "t"}}},
  {"data": {"name": "Bnum90"},
   "mark": {"type": "text", "fontSize": 15, "fontWeight": "bold", "color": "black", "angle": 90, "align": "center", "baseline": "middle"},
   "encoding": {"x": {"field": "w", "type": "quantitative"}, "y": {"field": "v", "type": "quantitative"}, "text": {"field": "t"}}},
  {"data": {"name": "Bpanel"},
   "mark": {"type": "text", "fontSize": 21, "fontWeight": "bold", "color": "black", "align": "center", "baseline": "middle"},
   "encoding": {"x": {"field": "w", "type": "quantitative"}, "y": {"field": "v", "type": "quantitative"}, "text": {"field": "t"}}}
 ]
}
]
}
